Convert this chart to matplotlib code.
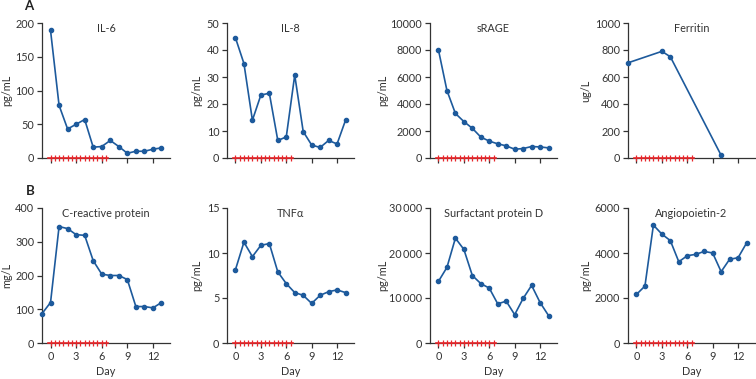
import matplotlib
matplotlib.use("Agg")
import matplotlib.pyplot as plt
import numpy as np

plt.rcParams['font.family'] = ['Lato', 'DejaVu Sans']

# ---- data ----
days_0_13 = list(range(0, 14))
crp_days = list(range(-1, 14))
ferritin_days = [-1, 3, 4, 10]

il6 = [189, 78, 43, 50, 57, 16, 17, 26, 17, 7, 10, 10, 13, 15]
il8 = [44.5, 35, 14, 23.3, 24, 6.5, 7.8, 30.7, 9.8, 4.8, 3.9, 6.5, 5.2, 14]
srage = [8000, 5000, 3300, 2700, 2200, 1550, 1250, 1050, 900, 650, 700, 850, 820, 750]
ferritin = [705, 790, 750, 20]
crp = [87, 120, 345, 339, 321, 319, 244, 204, 200, 200, 188, 108, 108, 104, 120]
tnfa = [8.15, 11.2, 9.6, 10.85, 11.05, 7.9, 6.6, 5.6, 5.3, 4.4, 5.3, 5.7, 5.9, 5.6]
spd = [13700, 16800, 23300, 20800, 15000, 13200, 12200, 8700, 9300, 6300, 9900, 12800, 9000, 6100]
ang2 = [2160, 2530, 5240, 4840, 4550, 3610, 3880, 3940, 4070, 4000, 3170, 3720, 3790, 4440]

dose_days = [0, 0.5, 1, 1.5, 2, 2.5, 3, 3.5, 4, 4.5, 5, 5.5, 6, 6.5]

x_ticks = [0, 3, 6, 9, 12]

panels = [
    ("IL-6", days_0_13, il6, "pg/mL", [0, 50, 100, 150, 200], None),
    ("IL-8", days_0_13, il8, "pg/mL", [0, 10, 20, 30, 40, 50], None),
    ("sRAGE", days_0_13, srage, "pg/mL", [0, 2000, 4000, 6000, 8000, 10000], None),
    ("Ferritin", ferritin_days, ferritin, "ug/L", [0, 200, 400, 600, 800, 1000], None),
    ("C-reactive protein", crp_days, crp, "mg/L", [0, 100, 200, 300, 400], None),
    ("TNF\u03b1", days_0_13, tnfa, "pg/mL", [0, 5, 10, 15], None),
    ("Surfactant protein D", days_0_13, spd, "pg/mL", [0, 10000, 20000, 30000],
     ["0", "10\u2009000", "20\u2009000", "30\u2009000"]),
    ("Angiopoietin-2", days_0_13, ang2, "pg/mL", [0, 2000, 4000, 6000], None),
]

W, H = 756, 379
fig = plt.figure(figsize=(W / 100, H / 100), dpi=100)

cols = [(42, 170), (227, 354), (430, 557), (628, 755)]
rows = [(23, 158), (208, 343)]
ylabel_px = [7, 197, 383, 586]

line_col = '#1d5a9c'
red = '#e8262a'
txt_col = '#333333'
fs = 7.8

for i, (title, xs, ys, ylab, yt, ytl) in enumerate(panels):
    r, c = divmod(i, 4)
    x0, x1 = cols[c]
    t, b = rows[r]
    ax = fig.add_axes([x0 / W, 1 - b / H, (x1 - x0) / W, (b - t) / H])
    ax.plot(xs, ys, color=line_col, lw=1.2, marker='o', ms=3, zorder=3, clip_on=False)
    ax.plot([dose_days[0] - 0.25, dose_days[-1] + 0.25], [0, 0], color=red, lw=1.2,
            zorder=4, clip_on=False)
    ax.plot(dose_days, [0] * len(dose_days), ls='none', marker='|', ms=4, mew=0.9,
            color=red, zorder=5, clip_on=False)
    ax.set_xlim(-1, 14)
    ax.set_ylim(yt[0], yt[-1])
    ax.set_xticks(x_ticks)
    ax.set_yticks(yt)
    if ytl is not None:
        ax.set_yticklabels(ytl)
    if r == 0:
        ax.set_xticklabels([])
    else:
        ax.set_xlabel("Day", fontsize=fs, color=txt_col, labelpad=3)
    for s in ['top', 'right']:
        ax.spines[s].set_visible(False)
    for s in ['left', 'bottom']:
        ax.spines[s].set_color('#333333')
        ax.spines[s].set_linewidth(0.9)
    ax.tick_params(axis='both', length=3.5, width=0.9, color='#333333',
                   labelsize=fs, labelcolor=txt_col, pad=2)
    ax.set_ylabel(ylab, fontsize=fs, color=txt_col, va='center')
    ax.yaxis.set_label_coords((ylabel_px[c] - x0) / (x1 - x0), 0.5)
    ax.text(0.5, 1.0, title, transform=ax.transAxes, ha='center', va='top',
            fontsize=fs, color=txt_col)

fig.text(29 / W, 1 - 6 / H, "A", fontsize=9.5, fontweight='bold', ha='center', va='center',
         color='#222222')
fig.text(30 / W, 1 - 191 / H, "B", fontsize=9.5, fontweight='bold', ha='center', va='center',
         color='#222222')

fig.savefig("out.png", dpi=100)
